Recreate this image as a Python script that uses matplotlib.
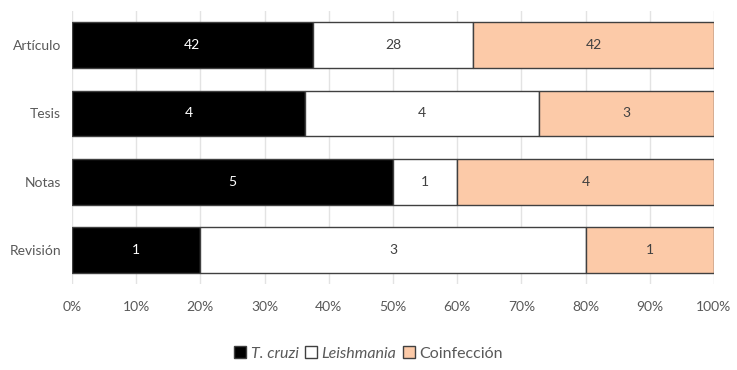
import numpy as np
import matplotlib
matplotlib.use('Agg')
import matplotlib.pyplot as plt

categories = ['Artículo', 'Tesis', 'Notas', 'Revisión']
tcruzi = [42, 4, 5, 1]
leishmania = [28, 4, 1, 3]
coinfeccion = [42, 3, 4, 1]

series_names = ['T. cruzi', 'Leishmania', 'Coinfección']
colors = ['#000000', '#ffffff', '#fccaa8']
text_colors = ['#ffffff', '#404040', '#404040']
xticks = [0, 10, 20, 30, 40, 50, 60, 70, 80, 90, 100]

plt.rcParams['font.family'] = ['Lato', 'DejaVu Sans']

data = np.array([tcruzi, leishmania, coinfeccion], dtype=float)
totals = data.sum(axis=0)
pct = data / totals * 100

fig = plt.figure(figsize=(7.37, 3.70), dpi=100)
ax = fig.add_axes([0.0977, 0.232, 0.871, 0.738])

y = np.arange(len(categories))
left = np.zeros(len(categories))
handles = []
for i, name in enumerate(series_names):
    bars = ax.barh(y, pct[i], left=left, height=0.67, color=colors[i],
                   edgecolor='#404040', linewidth=1.0, zorder=3, label=name)
    for j, b in enumerate(bars):
        ax.text(left[j] + pct[i][j] / 2, y[j], str(int(data[i][j])),
                ha='center', va='center', color=text_colors[i], fontsize=10, zorder=4)
    left += pct[i]
    handles.append(bars)

ax.set_ylim(len(categories) - 0.5, -0.5)
ax.set_xlim(0, 100)
ax.set_yticks(y)
ax.set_yticklabels(categories, fontsize=10, color='#595959')
ax.set_xticks(xticks)
ax.set_xticklabels([f'{t}%' for t in xticks], fontsize=10, color='#595959')
ax.tick_params(length=0, pad=8)
ax.tick_params(axis='x', pad=12)
ax.grid(axis='x', color='#e3e3e3', linewidth=1, zorder=0)
for s in ax.spines.values():
    s.set_visible(False)

leg = fig.legend(handles=handles, loc='center', bbox_to_anchor=(0.5, 0.045), ncol=3,
                 frameon=False, fontsize=11.5, handlelength=0.75, handleheight=0.75,
                 handletextpad=0.3, columnspacing=0.4, labelcolor='#595959')
for t in leg.get_texts()[:2]:
    t.set_style('italic')

fig.savefig('out.png', dpi=100)
